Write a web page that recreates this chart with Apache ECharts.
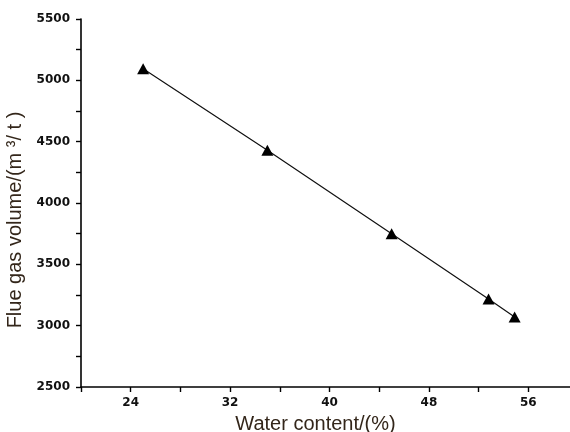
<!DOCTYPE html>
<html>
<head>
<meta charset="utf-8">
<script src="https://cdn.jsdelivr.net/npm/echarts@6/dist/echarts.min.js"></script>
<style>
  html, body { margin: 0; padding: 0; background: #fff; }
  #chart { width: 570px; height: 432px; }
</style>
</head>
<body>
<div id="chart"></div>
<script>
// Water content (%) of the samples and the resulting flue gas volume (m3/t)
const waterContent = [25, 35, 45, 52.8, 54.9];
const flueGasVolume = [5095, 4430, 3750, 3218, 3070];

// Axis ranges and which ticks carry a label
const xMin = 20, xMax = 60, xStep = 4;
const xLabelled = [24, 32, 40, 48, 56];
const yMin = 2500, yMax = 5500, yStep = 250;
const yLabelled = [2500, 3000, 3500, 4000, 4500, 5000, 5500];

const titleColor = '#33261a';
const tickFont = {
  fontFamily: 'DejaVu Sans',
  fontWeight: 'bold',
  fontSize: 12,
  color: '#111'
};

const chart = echarts.init(document.getElementById('chart'), null, { renderer: 'canvas' });

chart.setOption({
  animation: false,
  backgroundColor: '#fff',
  grid: {
    left: 81, right: -8, top: 19, bottom: 45,
    containLabel: false,
    outerBoundsMode: 'none'
  },
  xAxis: {
    type: 'value',
    min: xMin,
    max: xMax,
    interval: xStep,
    name: 'Water content/(%)',
    nameLocation: 'middle',
    nameGap: 27,
    nameTextStyle: {
      fontFamily: 'Liberation Sans, Arial, sans-serif',
      fontSize: 20,
      color: titleColor,
      padding: [0, 28, 0, 0]
    },
    axisLine: { onZero: false, lineStyle: { color: '#000', width: 1.6 } },
    axisTick: { show: true, inside: false, length: 5, lineStyle: { color: '#000', width: 1.4 } },
    axisLabel: {
      ...tickFont,
      margin: 10,
      showMaxLabel: false,
      formatter: v => (xLabelled.includes(v) ? String(v) : '')
    },
    splitLine: { show: false }
  },
  yAxis: {
    type: 'value',
    min: yMin,
    max: yMax,
    interval: yStep,
    name: 'Flue gas volume/(m \u00b3/ t )',
    nameLocation: 'middle',
    nameGap: 43,
    nameRotate: 90,
    nameTextStyle: {
      fontFamily: 'Liberation Sans, Arial, sans-serif',
      fontSize: 20,
      color: titleColor,
      padding: [0, 34, 0, 0]
    },
    axisLine: { show: true, lineStyle: { color: '#000', width: 1.6 } },
    axisTick: { show: true, inside: false, length: 5, lineStyle: { color: '#000', width: 1.4 } },
    axisLabel: {
      ...tickFont,
      margin: 11,
      formatter: v => (yLabelled.includes(v) ? String(v) : '')
    },
    splitLine: { show: false }
  },
  series: [{
    type: 'line',
    data: waterContent.map((w, i) => [w, flueGasVolume[i]]),
    symbol: 'triangle',
    symbolSize: [12, 11],
    itemStyle: { color: '#000' },
    lineStyle: { color: '#111', width: 1.2 },
    z: 3
  }]
});
</script>
</body>
</html>
